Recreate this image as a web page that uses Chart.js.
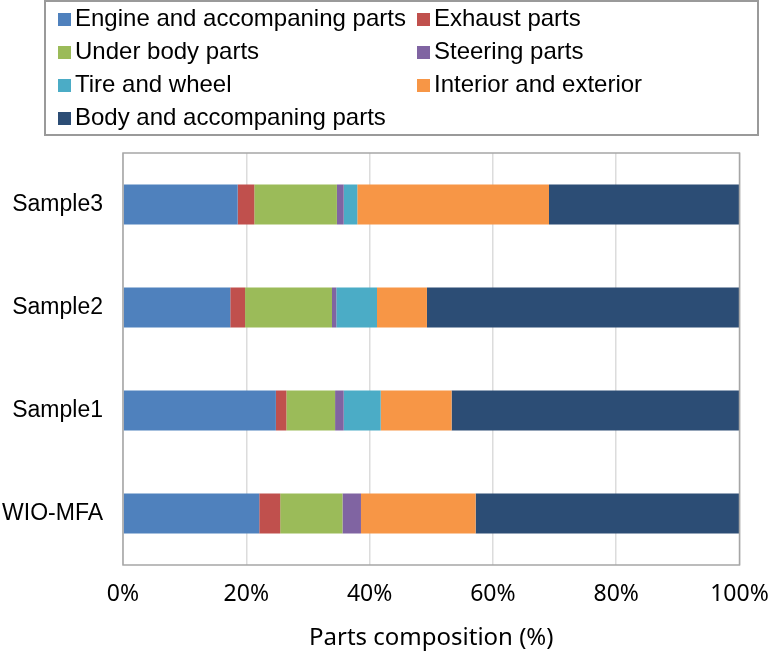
<!DOCTYPE html>
<html>
<head>
<meta charset="utf-8">
<script src="https://cdn.jsdelivr.net/npm/chart.js@4.4.1/dist/chart.umd.min.js"></script>
<style>
	html, body { margin: 0; padding: 0; background: #fff; }
	#wrap { position: relative; width: 768px; height: 651px; }
	#chart { position: absolute; left: 0; top: 0; }
	#legend {
		position: absolute; left: 44px; top: 0; width: 711px; height: 132px;
		border: 2px solid #9a9a9a; box-sizing: content-box;
		font-family: "Liberation Sans", Arial, sans-serif; font-size: 24px; color: #000;
	}
	.lg-item { position: absolute; line-height: 32px; white-space: nowrap; }
	.lg-box { position: absolute; width: 13px; height: 13px; }
</style>
</head>
<body>
<div id="wrap">
	<canvas id="chart" width="768" height="651"></canvas>
	<div id="legend"></div>
</div>
<script>
	'use strict';

	const categories = ['Sample3', 'Sample2', 'Sample1', 'WIO-MFA'];
	const seriesNames = [
		'Engine and accompaning parts', 'Exhaust parts', 'Under body parts', 'Steering parts',
		'Tire and wheel', 'Interior and exterior', 'Body and accompaning parts'
	];
	const seriesColors = ['#4f81bd', '#c0504d', '#9bbb59', '#8064a2', '#4bacc6', '#f79646', '#2c4d75'];

	// shares in %, one entry per category (Sample3, Sample2, Sample1, WIO-MFA)
	const engine = [18.6, 17.4, 24.8, 22.1];
	const exhaust = [2.7, 2.4, 1.7, 3.4];
	const underBody = [13.4, 14.1, 7.9, 10.1];
	const steering = [1.1, 0.7, 1.4, 3.0];
	const tireWheel = [2.2, 6.6, 6.0, 0];
	const interior = [31.1, 8.1, 11.5, 18.6];
	const body = [30.9, 50.7, 46.7, 42.8];

	const xTicks = [0, 20, 40, 60, 80, 100];

	const seriesValues = [engine, exhaust, underBody, steering, tireWheel, interior, body];

	function buildLegend() {
		const legend = document.getElementById('legend');
		const colLeft = [12, 371];

		seriesNames.forEach(function (name, i) {
			const col = i % 2;
			const row = Math.floor(i / 2);
			const top = 2 + row * 33;

			const box = document.createElement('div');
			box.className = 'lg-box';
			box.style.left = colLeft[col] + 'px';
			box.style.top = (top + 9) + 'px';
			box.style.background = seriesColors[i];
			legend.appendChild(box);

			const label = document.createElement('div');
			label.className = 'lg-item';
			label.style.left = (colLeft[col] + 17) + 'px';
			label.style.top = (top - 2) + 'px';
			label.textContent = name;
			legend.appendChild(label);
		});
	}

	const plotFrame = {
		id: 'plotFrame',
		afterDatasetsDraw: function (chart) {
			const area = chart.chartArea;
			const ctx = chart.ctx;
			ctx.save();
			ctx.strokeStyle = '#a6a6a6';
			ctx.lineWidth = 1.5;
			ctx.strokeRect(area.left, area.top, area.right - area.left, area.bottom - area.top);
			ctx.restore();
		}
	};

	buildLegend();

	new Chart(document.getElementById('chart'), {
		type: 'bar',
		data: {
			labels: categories,
			datasets: seriesNames.map(function (name, i) {
				return {
					label: name,
					data: seriesValues[i],
					backgroundColor: seriesColors[i],
					borderWidth: 0,
					categoryPercentage: 1,
					barPercentage: 0.39
				};
			})
		},
		plugins: [plotFrame],
		options: {
			indexAxis: 'y',
			responsive: false,
			animation: false,
			layout: { padding: { top: 153, right: 28.5, bottom: 0, left: 0 } },
			plugins: {
				legend: { display: false },
				tooltip: { enabled: false }
			},
			scales: {
				x: {
					stacked: true,
					min: 0,
					max: 100,
					afterBuildTicks: function (scale) {
						scale.ticks = xTicks.map(function (v) { return { value: v }; });
					},
					afterFit: function (scale) {
						scale.height = 86;
						scale.paddingLeft = 0;
						scale.paddingRight = 0;
					},
					grid: { color: '#dcdcdc', lineWidth: 1.5, drawTicks: false },
					border: { display: false },
					ticks: {
						padding: 16,
						color: '#000',
						font: { family: '"Noto Sans", "Open Sans", sans-serif', size: 23 },
						callback: function (v) { return v + '%'; }
					},
					title: {
						display: true,
						text: 'Parts composition (%)',
						color: '#000',
						padding: { top: 0, bottom: 0 },
						font: { family: '"Noto Sans", "Open Sans", sans-serif', size: 24, lineHeight: 1.1 }
					}
				},
				y: {
					stacked: true,
					afterFit: function (scale) { scale.width = 123; },
					grid: { display: false, drawTicks: false },
					border: { display: false },
					ticks: {
						padding: 20,
						color: '#000',
						font: { family: '"Liberation Sans", Arial, sans-serif', size: 23 }
					}
				}
			}
		}
	});
</script>
</body>
</html>
